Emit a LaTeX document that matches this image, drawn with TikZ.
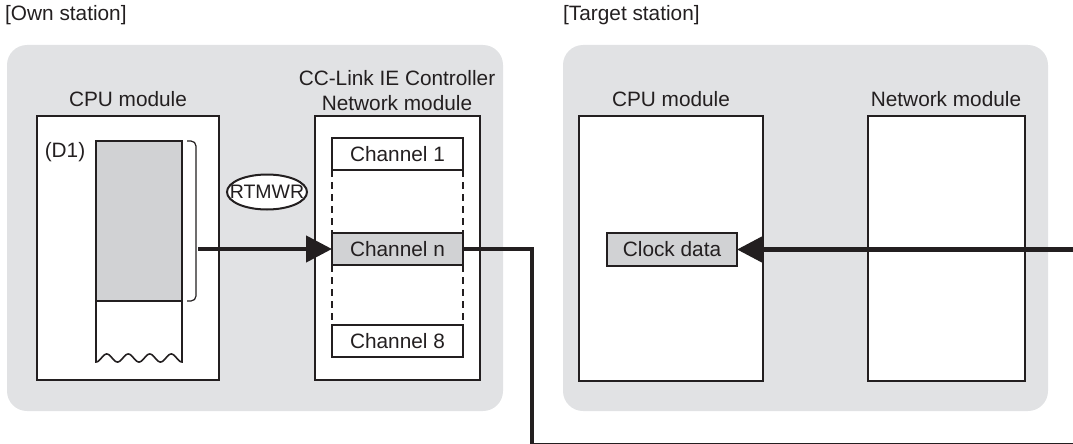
\documentclass[tikz,border=0pt]{standalone}
\usepackage{fontspec}
\setmainfont{Liberation Sans}
\usetikzlibrary{arrows.meta,shapes.geometric}
\definecolor{ink}{HTML}{231F20}
\definecolor{panel}{HTML}{E1E2E4}
\definecolor{memgray}{HTML}{D1D2D4}
\begin{document}
\begin{tikzpicture}[x=1pt,y=-1pt,
  every node/.style={font=\fontsize{20.8}{24}\selectfont, text=ink},
  panelbox/.style={fill=panel, rounded corners=20},
  modbox/.style={draw=ink, line width=2.4pt, fill=white, anchor=north west, inner sep=0pt, outer sep=0pt},
  chbox/.style={draw=ink, line width=1.3pt, fill=white, anchor=north west, inner sep=0pt, outer sep=0pt, minimum width=131pt, minimum height=32pt},
  lbl/.style={anchor=base, inner sep=0pt},
  conn/.style={draw=ink, line width=4.5pt},
  arr/.style={conn, -{Triangle[length=26pt,width=26pt]}},
  thinline/.style={draw=ink, line width=1.2pt},
]
\useasboundingbox (0,0) rectangle (1073,444);
% panels
\fill[panelbox] (7,45) rectangle (503,411);
\fill[panelbox] (563,45) rectangle (1048,411);
% titles
\node[anchor=base west, inner sep=0pt] (own) at (5,21) {[Own station]};
\node[anchor=base west, inner sep=0pt] (tgt) at (563,21) {[Target station]};
% own station modules
\node[modbox, minimum width=182pt, minimum height=264pt] (cpuA) at (37,116) {};
\node[lbl] (cpuAl) at (128,106) {CPU module};
\node[modbox, minimum width=165pt, minimum height=264pt] (netA) at (315,116) {};
\node[lbl] (netAl1) at (397,85) {CC-Link IE Controller};
\node[lbl] (netAl2) at (397,110) {Network module};
% memory
\node[draw=ink, fill=memgray, line width=1.6pt, anchor=north west, minimum width=86pt, minimum height=160pt, inner sep=0pt, outer sep=0pt] (memA) at (96,141) {};
\draw[draw=ink, line width=1.6pt] (memA.south west) -- (96,362) -- plot[domain=0:86, samples=100] ({96+\x},{358+4*cos(\x*16.7442)}) -- (memA.south east);
\node[anchor=base, inner sep=0pt] (d1) at (65,157) {(D1)};
\draw[thinline, rounded corners=5] (187,141) -- (196,141) -- (196,301) -- (187,301);
\coordinate (brk) at (198,249);
% channels
\node[chbox] (ch1) at (332,138) {Channel 1};
\node[chbox, fill=memgray] (chn) at (332,233) {Channel n};
\node[chbox] (ch8) at (332,325) {Channel 8};
\draw[thinline, dash pattern=on 7pt off 5pt] (ch1.south west) -- (chn.north west);
\draw[thinline, dash pattern=on 7pt off 5pt] (ch1.south east) -- (chn.north east);
\draw[thinline, dash pattern=on 7pt off 5pt] (chn.south west) -- (ch8.north west);
\draw[thinline, dash pattern=on 7pt off 5pt] (chn.south east) -- (ch8.north east);
% instruction
\node[draw=ink, line width=2pt, ellipse, fill=white, minimum width=80pt, minimum height=35pt, inner sep=0pt, font=\fontsize{19.5}{22}\selectfont] (rt) at (267,192) {\makebox[0pt]{RTMWR}};
% target station
\node[modbox, minimum width=184pt, minimum height=265pt] (cpuB) at (579,116) {};
\node[lbl] (cpuBl) at (671,106) {CPU module};
\node[modbox, minimum width=157pt, minimum height=265pt] (netB) at (868,116) {};
\node[lbl] (netBl) at (946,106) {Network module};
\node[chbox, fill=memgray, minimum width=130pt, minimum height=33pt] (clk) at (607,233) {Clock data};
% connectors
\draw[arr] (brk) -- (chn.west);
\coordinate (bend1) at (532,249);
\coordinate (bend2) at (532,445);
\coordinate (endR) at (1085,445);
\draw[conn] (chn.east) -- (bend1) -- (bend2) -- (endR);
\coordinate (inR) at (1085,249.5);
\draw[arr] (inR) -- (clk.east);
\end{tikzpicture}
\end{document}
